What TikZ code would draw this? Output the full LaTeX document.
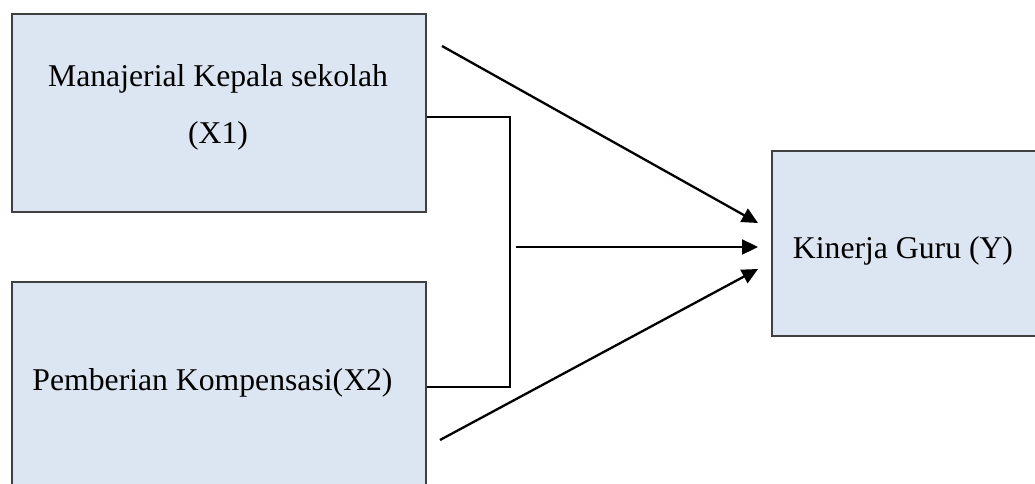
\documentclass[tikz,border=0pt]{standalone}
\usepackage{fontspec}
\setmainfont{Liberation Serif}
\usetikzlibrary{arrows.meta}
\definecolor{boxfill}{HTML}{DCE6F2}
\definecolor{boxline}{HTML}{404040}
\begin{document}
\begin{tikzpicture}[x=1pt,y=-1pt,
  box/.style={draw=boxline, fill=boxfill, line width=1.8pt, inner sep=0pt, rectangle},
  lbl/.style={anchor=base, inner sep=0pt, font=\fontsize{31.7}{38}\selectfont},
  conn/.style={line width=2.3pt, black},
  arr/.style={conn, -{Triangle[length=16pt,width=15pt]}}]
\useasboundingbox (0,0) rectangle (1035,484);
\node[box, minimum width=414pt, minimum height=198pt] (m) at (219,113) {};
\node[box, minimum width=414pt, minimum height=240pt] (p) at (219,402) {};
\node[box, minimum width=273pt, minimum height=185pt] (k) at (908.5,243.5) {};
\node[lbl] (ma) at (218,87) {Manajerial Kepala sekolah};
\node[lbl] (mb) at (218,143) {(X1)};
\node[lbl] (pa) at (212.5,390) {Pemberian Kompensasi(X2)};
\node[lbl] (ka) at (903,258) {Kinerja Guru (Y)};
\coordinate (b1) at (510,117);
\coordinate (b2) at (510,387);
\coordinate (s1) at (442,46);
\coordinate (s2) at (516,247);
\coordinate (s3) at (440,440);
\coordinate (t1) at (758,223);
\coordinate (t2) at (758,247);
\coordinate (t3) at (758,269);
\draw[conn] (m.east |- b1) -- (b1) -- (b2) -- (p.east |- b2);
\draw[arr] (s1) -- (t1);
\draw[arr] (s2) -- (t2);
\draw[arr] (s3) -- (t3);
\end{tikzpicture}
\end{document}
